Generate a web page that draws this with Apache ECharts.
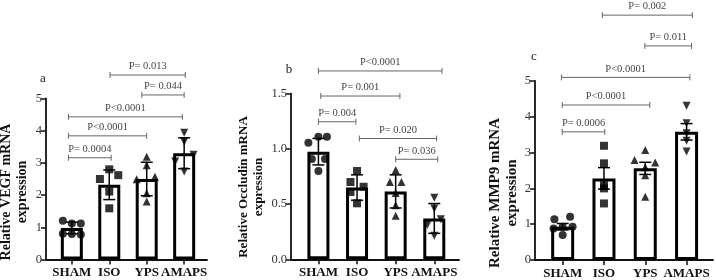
<!DOCTYPE html>
<html>
<head>
<meta charset="utf-8">
<script src="https://cdn.jsdelivr.net/npm/echarts@6/dist/echarts.min.js"></script>
<style>
html, body { margin: 0; padding: 0; background: #fff; }
#chart { width: 716px; height: 280px; }
</style>
</head>
<body>
<div id="chart"></div>
<script>
var cats = ['SHAM', 'ISO', 'YPS', 'AMAPS'];

// a: VEGF
var meanA = [0.98, 2.32, 2.5, 3.3];
var errA = [0.18, 0.46, 0.52, 0.48];
var ptsA = [[1.20, 1.12, 1.12, 0.80, 0.79, 0.78], [2.50, 2.80, 2.62, 2.11, 1.59], [3.19, 2.93, 2.57, 2.49, 2.06, 1.80], [3.94, 3.66, 3.25, 3.04, 2.73]];
var sigA = [[2.02, 4.03, 5.73, 'P= 0.013'], [2.87, 4.0, 5.11, 'P= 0.044'], [0.91, 3.95, 4.43, 'P<0.0001'], [0.91, 3.0, 3.84, 'P<0.0001'], [0.91, 2.05, 3.16, 'P= 0.0004']];

// b: Occludin
var meanB = [0.975, 0.65, 0.615, 0.37];
var errB = [0.12, 0.115, 0.15, 0.135];
var ptsB = [[1.056, 1.11, 1.11, 0.908, 0.908, 0.80], [0.80, 0.70, 0.657, 0.61, 0.507], [0.81, 0.70, 0.70, 0.60, 0.49, 0.395], [0.558, 0.46, 0.362, 0.31, 0.214]];
var sigB = [[1.0, 4.2, 1.706, 'P<0.0001'], [1.06, 3.11, 1.479, 'P= 0.001'], [1.0, 1.97, 1.246, 'P= 0.004'], [2.06, 4.06, 1.094, 'P= 0.020'], [3.0, 4.09, 0.906, 'P= 0.036']];

// c: MMP9
var meanC = [0.93, 2.28, 2.56, 3.58];
var errC = [0.09, 0.3, 0.17, 0.23];
var ptsC = [[1.14, 1.21, 0.88, 0.93, 0.93, 0.70], [3.19, 2.70, 2.09, 2.0, 1.58], [3.07, 2.79, 2.72, 2.59, 2.37, 1.77], [4.31, 3.82, 3.54, 3.33, 3.03]];
var sigC = [[1.96, 4.14, 6.84, 'P= 0.002'], [2.99, 4.12, 5.98, 'P= 0.011'], [0.97, 4.08, 5.10, 'P<0.0001'], [0.99, 3.11, 4.33, 'P<0.0001'], [0.99, 2.02, 3.58, 'P= 0.0006']];

// horizontal spread of the dots inside each group (layout only)
var jitA = [[-0.24, 0, 0.24, -0.24, 0, 0.24], [-0.25, 0, 0.24, 0, 0], [0, 0, 0.22, -0.27, 0, 0], [0, 0, 0.25, -0.24, 0]];
var jitB = [[-0.26, 0, 0.22, -0.17, 0.17, 0], [0, -0.17, 0.17, -0.17, 0], [0, -0.15, 0.15, 0, 0, 0], [0, 0, 0.17, -0.18, 0]];
var jitC = [[-0.2, 0.18, -0.22, 0, 0.24, 0], [0, 0, 0, 0, 0], [0, -0.26, 0.24, 0, 0, 0], [0, 0, 0, 0, 0]];

var symbols = ['circle', 'rect', 'triangle', 'triangle'];
var rotates = [0, 0, 0, 180];
var serif = '"Liberation Serif", "Times New Roman", serif';

var panels = [
    {mean: meanA, err: errA, pts: ptsA, jit: jitA, sig: sigA,
     grid: {left: 46, top: 98.5, width: 161, height: 161}, xr: [0.31, 4.61], ymax: 5, step: 1, dec: 0, barW: 22,
     title: 'Relative VEGF mRNA\nexpression', tx: 14, ty: 192, tfs: 14, letter: 'a', lx: 43, ly: 79},
    {mean: meanB, err: errB, pts: ptsB, jit: jitB, sig: sigB,
     grid: {left: 291, top: 93.7, width: 168, height: 165.6}, xr: [0.29, 4.64], ymax: 1.5, step: 0.5, dec: 1, barW: 22,
     title: 'Relative Occludin mRNA\nexpression', tx: 251, ty: 187, tfs: 13, letter: 'b', lx: 289, ly: 70},
    {mean: meanC, err: errC, pts: ptsC, jit: jitC, sig: sigC,
     grid: {left: 535, top: 81, width: 178, height: 179}, xr: [0.33, 4.64], ymax: 5, step: 1, dec: 0, barW: 23,
     title: 'Relative MMP9 mRNA\nexpression', tx: 504, ty: 193, tfs: 15, letter: 'c', lx: 534, ly: 57}
];

function errRender(params, api) {
    var x = api.value(0), m = api.value(1), e = api.value(2);
    var top = api.coord([x, m + e]);
    var bot = api.coord([x, m - e]);
    var st = {stroke: '#000', lineWidth: 1.5};
    return {type: 'group', children: [
        {type: 'line', shape: {x1: top[0], y1: top[1], x2: bot[0], y2: bot[1]}, style: st},
        {type: 'line', shape: {x1: top[0] - 6, y1: top[1], x2: top[0] + 6, y2: top[1]}, style: st},
        {type: 'line', shape: {x1: bot[0] - 6, y1: bot[1], x2: bot[0] + 6, y2: bot[1]}, style: st}
    ]};
}

function sigRender(params, api) {
    var p1 = api.coord([api.value(0), api.value(2)]);
    var p2 = api.coord([api.value(1), api.value(2)]);
    var txt = params.context.labels[params.dataIndex];
    var st = {stroke: '#666', lineWidth: 1};
    return {type: 'group', children: [
        {type: 'line', shape: {x1: p1[0], y1: p1[1], x2: p2[0], y2: p1[1]}, style: st},
        {type: 'line', shape: {x1: p1[0], y1: p1[1] - 3, x2: p1[0], y2: p1[1] + 3}, style: st},
        {type: 'line', shape: {x1: p2[0], y1: p2[1] - 3, x2: p2[0], y2: p2[1] + 3}, style: st},
        {type: 'text', style: {text: txt, x: (p1[0] + p2[0]) / 2, y: p1[1] - 3,
            align: 'center', verticalAlign: 'bottom', textAlign: 'center', textVerticalAlign: 'bottom',
            fill: '#444', fontSize: 10.5, fontFamily: serif}}
    ]};
}

var grids = [], xAxes = [], yAxes = [], series = [], graphics = [];

panels.forEach(function (p, i) {
    grids.push(p.grid);
    xAxes.push({
        type: 'value', gridIndex: i, min: p.xr[0], max: p.xr[1],
        splitLine: {show: false},
        axisLine: {show: true, lineStyle: {color: '#111', width: 1.8}},
        axisTick: {show: true, customValues: [1, 2, 3, 4], length: 5, lineStyle: {color: '#111', width: 1.5}},
        axisLabel: {customValues: [1, 2, 3, 4], margin: 7,
            formatter: function (v) { return cats[Math.round(v) - 1]; },
            color: '#111', fontWeight: 'bold', fontSize: 13, fontFamily: serif}
    });
    yAxes.push({
        type: 'value', gridIndex: i, min: 0, max: p.ymax, interval: p.step,
        splitLine: {show: false},
        axisLine: {show: true, lineStyle: {color: '#111', width: 1.8}},
        axisTick: {show: true, length: 5, lineStyle: {color: '#111', width: 1.5}},
        axisLabel: {margin: 4, color: '#333', fontSize: 12.5, fontFamily: serif,
            formatter: function (v) { return v.toFixed(p.dec); }}
    });
    series.push({
        type: 'bar', xAxisIndex: i, yAxisIndex: i, barWidth: p.barW, z: 2,
        itemStyle: {color: '#fff', borderColor: '#000', borderWidth: 3},
        data: p.mean.map(function (m, k) { return [k + 1, m]; })
    });
    series.push({
        type: 'custom', xAxisIndex: i, yAxisIndex: i, z: 3,
        renderItem: errRender, encode: {x: 0, y: 1},
        data: p.mean.map(function (m, k) { return [k + 1, m, p.err[k]]; })
    });
    p.pts.forEach(function (vals, k) {
        series.push({
            type: 'scatter', xAxisIndex: i, yAxisIndex: i, z: 4,
            symbol: symbols[k], symbolRotate: rotates[k], symbolSize: 8,
            itemStyle: {color: '#000'},
            data: vals.map(function (v, j) { return [k + 1 + p.jit[k][j], v]; })
        });
    });
    series.push({
        type: 'custom', xAxisIndex: i, yAxisIndex: i, z: 5, clip: false,
        renderItem: function (params, api) {
            params.context.labels = p.sig.map(function (s) { return s[3]; });
            return sigRender(params, api);
        },
        encode: {x: [0, 1], y: 2},
        data: p.sig.map(function (s) { return [s[0], s[1], s[2]]; })
    });
    graphics.push({
        type: 'text', x: p.tx, y: p.ty, rotation: Math.PI / 2,
        style: {text: p.title, align: 'center', verticalAlign: 'middle', textAlign: 'center', textVerticalAlign: 'middle',
            font: 'bold ' + p.tfs + 'px ' + serif, fill: '#111', lineHeight: p.tfs + 2}
    });
    graphics.push({
        type: 'text', x: p.lx, y: p.ly,
        style: {text: p.letter, align: 'center', verticalAlign: 'middle', textAlign: 'center', textVerticalAlign: 'middle',
            font: '13px ' + serif, fill: '#222'}
    });
});

var chart = echarts.init(document.getElementById('chart'));
chart.setOption({
    animation: false,
    backgroundColor: '#fff',
    grid: grids,
    xAxis: xAxes,
    yAxis: yAxes,
    series: series,
    graphic: graphics
});
</script>
</body>
</html>
